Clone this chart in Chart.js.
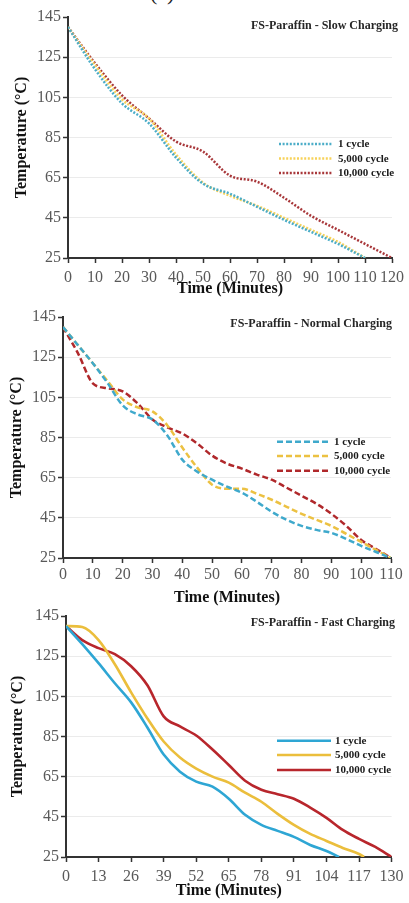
<!DOCTYPE html>
<html><head><meta charset="utf-8">
<script src="https://cdn.jsdelivr.net/npm/chart.js@4.4.1/dist/chart.umd.min.js"></script>
<style>
html,body{margin:0;padding:0;background:#fff;}
#wrap{position:relative;width:409px;height:903px;overflow:hidden;background:#fff;}
canvas{position:absolute;left:0;}
#lab{position:absolute;left:150px;top:-18px;font:22px "Liberation Serif";line-height:22px;color:#222;}
</style></head><body>
<div id="wrap">
<div id="lab">(a)</div>
<canvas id="c1" width="409" height="300" style="top:0px"></canvas>
<canvas id="c2" width="409" height="310" style="top:300px"></canvas>
<canvas id="c3" width="409" height="303" style="top:600px"></canvas>
</div>
<script>
// ---------- DATA ----------
const seriesLabels = ['1 cycle', '5,000 cycle', '10,000 cycle'];
const yTicks = [25, 45, 65, 85, 105, 125, 145];

// Slow charging (minutes)
const slowTime       = [0, 10, 20, 30, 40, 50, 60, 70, 80, 90, 100, 110, 120];
const slowCycle1     = [140, 119, 102, 92, 75, 62, 57, 50.5, 44, 38, 32, 25];
const slowCycle5000  = [140, 121, 104, 94.5, 76.5, 62.5, 56, 51, 45, 39, 33, 25];
const slowCycle10000 = [140, 122, 106, 94.5, 83, 78, 66, 63, 55, 46, 39, 32, 25];

// Normal charging
const normalTime       = [0, 5, 10, 15, 20, 25, 30, 35, 40, 45, 50, 55, 60, 65, 70, 75, 80, 85, 90, 95, 100, 105, 110];
const normalCycle1     = [140, 131, 122, 112, 101, 96.5, 94, 86, 74, 68, 64, 60.5, 57.5, 53, 48, 44, 41, 39, 37.5, 34.5, 31, 28, 25];
const normalCycle5000  = [140, 131, 122, 113, 104, 100, 98, 91, 80, 70, 61.5, 59.5, 59.5, 57, 54, 50.5, 47, 44, 41, 37, 33, 29, 25];
const normalCycle10000 = [140, 127, 112, 109.5, 108, 102, 94, 90, 87, 82, 76, 72, 69.5, 66.5, 64, 60, 56, 52, 47, 41, 34, 29.5, 25];

// Fast charging
const fastTime1     = [0, 6.5, 13, 19.5, 26, 32.5, 39, 45.5, 52, 58.5, 65, 71.5, 78, 84.5, 91, 97.5, 104, 109];
const fastCycle1    = [140, 131, 121.5, 111.5, 102, 89.5, 76, 67.5, 62.5, 60, 54, 46, 41, 38, 35, 31, 28, 25];
const fastTime5000  = [0, 6.5, 13, 19.5, 26, 32.5, 39, 45.5, 52, 58.5, 65, 71.5, 78, 84.5, 91, 97.5, 104, 110.5, 117, 119];
const fastCycle5000 = [140, 139.5, 133, 121, 107, 94, 82.5, 74.5, 69, 65, 62, 57, 52.5, 46.5, 41, 36.5, 33, 29.5, 26.5, 25];
const fastTime10000 = [0, 6.5, 13, 19.5, 26, 32.5, 39, 45.5, 52, 58.5, 65, 71.5, 78, 84.5, 91, 97.5, 104, 110.5, 117, 123.5, 130];
const fastCycle10000= [140, 133, 129, 126, 120, 110.5, 95, 90, 85.5, 78.5, 70.8, 63, 58.5, 56.3, 54, 49.6, 44.5, 38.5, 34, 30, 25];

// ---------- HELPERS ----------
const FONT = 'Liberation Serif';
const pts = (t, v) => v.map((y, i) => ({x: t[i], y}));

const overlay = {
  id: 'overlay',
  afterDatasetsDraw(chart, args, o) {
    const ctx = chart.ctx;
    ctx.save();
    ctx.font = 'bold 12px "' + FONT + '"';
    ctx.fillStyle = '#262626';
    ctx.textAlign = 'right';
    ctx.textBaseline = 'middle';
    ctx.fillText(o.title, o.titleX, o.titleY);
    chart.data.datasets.forEach((ds, i) => {
      const y = o.legendY[i];
      ctx.beginPath();
      ctx.setLineDash(ds.borderDash || []);
      ctx.lineCap = ds.borderCapStyle || 'butt';
      ctx.strokeStyle = ds.borderColor;
      ctx.lineWidth = ds.borderWidth;
      ctx.moveTo(o.x1, y); ctx.lineTo(o.x2, y);
      ctx.stroke();
      ctx.setLineDash([]);
      ctx.font = 'bold 11px "' + FONT + '"';
      ctx.textAlign = 'left';
      ctx.fillStyle = '#1a1a1a';
      ctx.fillText(ds.label, o.tx, y + 0.5);
    });
    ctx.restore();
  }
};

function makeChart(id, cfg) {
  const datasets = cfg.series.map((s, i) => ({
    label: seriesLabels[i],
    data: pts(s.t, s.v),
    borderColor: cfg.colors[i],
    backgroundColor: cfg.colors[i],
    borderWidth: cfg.lw,
    borderDash: cfg.dash,
    borderCapStyle: 'butt',
    pointRadius: 0,
    fill: false,
    cubicInterpolationMode: 'monotone'
  }));
  return new Chart(document.getElementById(id), {
    type: 'line',
    data: {datasets},
    options: {
      responsive: false,
      animation: false,
      layout: {padding: {top: cfg.top, right: cfg.rpad, left: 0, bottom: 0}},
      plugins: {
        legend: {display: false},
        tooltip: {enabled: false},
        overlay: cfg.overlay
      },
      scales: {
        x: {
          type: 'linear', min: 0, max: cfg.xmax,
          afterFit(s) { s.height = cfg.xh; },
          ticks: {stepSize: cfg.xstep, autoSkip: false, maxRotation: 0, minRotation: 0,
                  color: '#595959', font: {family: FONT, size: 16}, padding: cfg.xpad},
          grid: {drawOnChartArea: false, drawTicks: true, tickLength: 5, tickColor: '#333', tickWidth: 1.5},
          border: {display: true, color: '#333', width: 2},
          title: {display: true, text: 'Time (Minutes)', color: '#111',
                  font: {family: FONT, size: 16, weight: 'bold'}, padding: {top: 0, bottom: cfg.xtpad}}
        },
        y: {
          min: 25, max: 145,
          afterFit(s) { s.width = cfg.yw; },
          afterBuildTicks(s) { s.ticks = yTicks.map(v => ({value: v})); },
          ticks: {color: '#595959', font: {family: FONT, size: 16}, padding: 2},
          grid: {
            color: c => (c.tick && (c.tick.value === 145 || c.tick.value === 25)) ? 'rgba(0,0,0,0)' : '#ebebeb',
            lineWidth: 1, drawTicks: true, tickLength: 5, tickColor: '#333', tickWidth: 1.5
          },
          border: {display: true, color: '#333', width: 2},
          title: {display: true, text: 'Temperature (°C)', color: '#111',
                  font: {family: FONT, size: 16, weight: 'bold'}, padding: {top: cfg.ytpad, bottom: 0}}
        }
      }
    },
    plugins: [overlay]
  });
}

makeChart('c1', {
  series: [{t: slowTime, v: slowCycle1}, {t: slowTime, v: slowCycle5000}, {t: slowTime, v: slowCycle10000}],
  colors: ['#4badc8', '#f7d25a', '#a8373a'],
  lw: 2.5, dash: [2, 1.6],
  xmax: 120, xstep: 10,
  top: 17, rpad: 13, yw: 68, xh: 42, xpad: 5, xtpad: 1.4, ytpad: 12.4,
  overlay: {title: 'FS-Paraffin - Slow Charging', titleX: 398, titleY: 26,
            x1: 279, x2: 333, tx: 338, legendY: [144, 158.5, 173]}
});

makeChart('c2', {
  series: [{t: normalTime, v: normalCycle1}, {t: normalTime, v: normalCycle5000}, {t: normalTime, v: normalCycle10000}],
  colors: ['#3fa9cc', '#ecc142', '#b0282b'],
  lw: 2.5, dash: [6, 3],
  xmax: 110, xstep: 10,
  top: 17, rpad: 18, yw: 63, xh: 52, xpad: 2.4, xtpad: 2.4, ytpad: 7.4,
  overlay: {title: 'FS-Paraffin - Normal Charging', titleX: 392, titleY: 24,
            x1: 277, x2: 331, tx: 334, legendY: [141.7, 156, 170.7]}
});

makeChart('c3', {
  series: [{t: fastTime1, v: fastCycle1}, {t: fastTime5000, v: fastCycle5000}, {t: fastTime10000, v: fastCycle10000}],
  colors: ['#2ea6d4', '#ebbe3c', '#b8262c'],
  lw: 2.6, dash: [],
  xmax: 130, xstep: 13,
  top: 16, rpad: 15, yw: 66, xh: 46, xpad: 5.4, xtpad: 2.4, ytpad: 8.4,
  overlay: {title: 'FS-Paraffin - Fast Charging', titleX: 395, titleY: 23,
            x1: 277, x2: 331, tx: 335, legendY: [140.7, 155, 170]}
});
</script>
</body></html>
